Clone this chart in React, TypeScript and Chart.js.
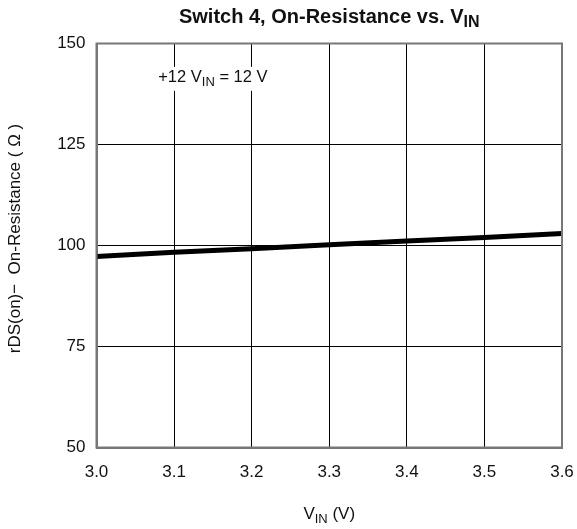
import React, { useEffect, useRef } from "react";
import { Chart, registerables } from "chart.js";

Chart.register(...registerables);

const vin = [3.0, 3.1, 3.2, 3.3, 3.4, 3.5, 3.6];
const resistance = [97.3, 98.3, 99.2, 100.2, 101.1, 102.0, 103.0];
const yTicks = [50, 75, 100, 125, 150];
const xTicks = [3.0, 3.1, 3.2, 3.3, 3.4, 3.5, 3.6];

const FONT = '"Liberation Sans", Arial, Helvetica, sans-serif';

function drawSub(ctx: CanvasRenderingContext2D, parts: { t: string; sub?: boolean }[], cx: number, cy: number, size: number, bold: boolean) {
  const main = `${bold ? "bold " : ""}${size}px ${FONT}`;
  const small = `${bold ? "bold " : ""}${Math.round(size * 0.78)}px ${FONT}`;
  let total = 0;
  for (const p of parts) {
    ctx.font = p.sub ? small : main;
    total += ctx.measureText(p.t).width;
  }
  let x = cx - total / 2;
  ctx.textBaseline = "middle";
  ctx.textAlign = "left";
  for (const p of parts) {
    ctx.font = p.sub ? small : main;
    ctx.fillText(p.t, x, p.sub ? cy + size * 0.3 : cy);
    x += ctx.measureText(p.t).width;
  }
  return total;
}

const textPlugin = {
  id: "texts",
  afterDraw(chart: any) {
    const ctx = chart.ctx as CanvasRenderingContext2D;
    const a = chart.chartArea;
    ctx.save();
    ctx.strokeStyle = "#777";
    ctx.lineWidth = 2;
    ctx.strokeRect(a.left, a.top, a.right - a.left, a.bottom - a.top);
    ctx.fillStyle = "#111";
    const cx = (a.left + a.right) / 2;
    drawSub(ctx, [{ t: "Switch 4, On-Resistance vs. V" }, { t: "IN", sub: true }], cx, 17, 20, true);
    drawSub(ctx, [{ t: "V" }, { t: "IN", sub: true }, { t: " (V)" }], cx, 514, 17, false);
    const xs = chart.scales.x;
    const ys = chart.scales.y;
    const ax = (xs.getPixelForValue(3.1) + xs.getPixelForValue(3.2)) / 2;
    const ay = ys.getPixelForValue(141.5);
    ctx.fillStyle = "#fff";
    ctx.fillRect(ax - 60, ay - 11, 120, 24);
    ctx.fillStyle = "#111";
    drawSub(ctx, [{ t: "+12 V" }, { t: "IN", sub: true }, { t: " = 12 V" }], ax, ay, 16.5, false);
    ctx.translate(15, (a.top + a.bottom) / 2 - 7);
    ctx.rotate(-Math.PI / 2);
    ctx.font = `17px ${FONT}`;
    ctx.textAlign = "center";
    ctx.textBaseline = "middle";
    ctx.fillText("rDS(on)\u2212  On-Resistance ( \u03A9 )", 0, 0);
    ctx.restore();
  },
};

export default function App() {
  const ref = useRef<HTMLCanvasElement>(null);
  useEffect(() => {
    if (!ref.current) return;
    const chart = new Chart(ref.current, {
      type: "line",
      data: {
        datasets: [
          {
            data: vin.map((v, i) => ({ x: v, y: resistance[i] })),
            borderColor: "#000",
            borderWidth: 5,
            pointRadius: 0,
            fill: false,
          },
        ],
      },
      options: {
        animation: false,
        responsive: false,
        layout: { padding: { left: 0, right: 15, top: 43.5, bottom: 0 } },
        plugins: { legend: { display: false }, tooltip: { enabled: false }, title: { display: false } },
        scales: {
          x: {
            type: "linear",
            min: 3.0,
            max: 3.6,
            afterBuildTicks: (s: any) => {
              s.ticks = xTicks.map((v) => ({ value: v }));
            },
            afterFit: (s: any) => {
              s.height = 81.5;
              s.paddingLeft = 0;
              s.paddingRight = 0;
            },
            ticks: {
              padding: 15,
              color: "#111",
              font: { family: FONT, size: 17 },
              callback: (v: any) => Number(v).toFixed(1),
              maxRotation: 0,
            },
            grid: { color: "#000", lineWidth: 1, drawTicks: false },
            border: { color: "#777", width: 2 },
          },
          y: {
            min: 50,
            max: 150,
            afterBuildTicks: (s: any) => {
              s.ticks = yTicks.map((v) => ({ value: v }));
            },
            afterFit: (s: any) => {
              s.width = 96.5;
              s.paddingTop = 0;
              s.paddingBottom = 0;
            },
            ticks: {
              padding: 11,
              color: "#111",
              font: { family: FONT, size: 17 },
            },
            grid: { color: "#000", lineWidth: 1, drawTicks: false },
            border: { color: "#777", width: 2 },
          },
        },
      },
      plugins: [textPlugin],
    });
    return () => chart.destroy();
  }, []);
  return (
    <div style={{ position: "fixed", left: 0, top: 0, width: 577, height: 529, background: "#fff" }}>
      <canvas ref={ref} width={577} height={529} style={{ width: 577, height: 529 }} />
    </div>
  );
}
